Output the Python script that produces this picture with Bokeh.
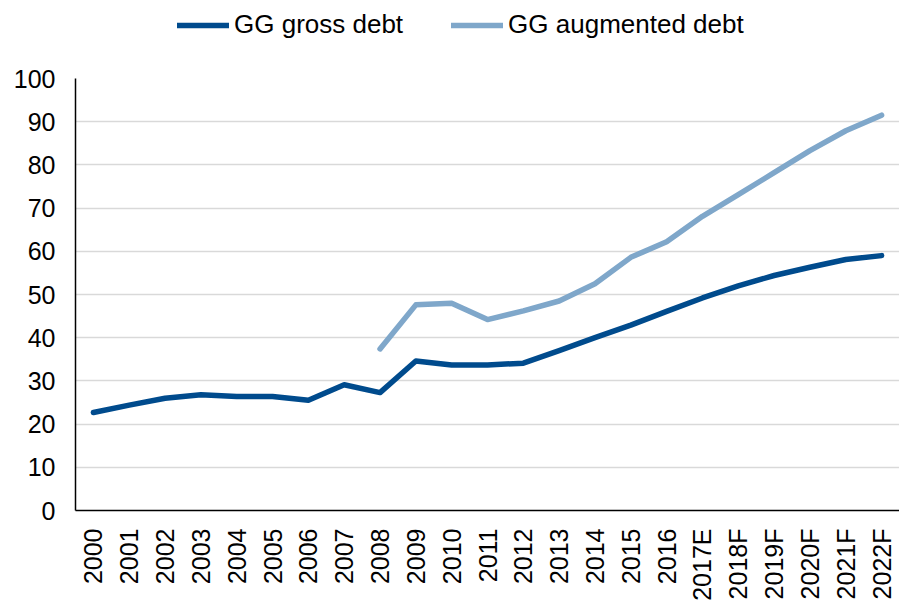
import math
from bokeh.plotting import figure
from bokeh.layouts import column
from bokeh.models import (ColumnDataSource, FactorRange, Range1d, Legend, LegendItem,
                          FixedTicker)
from bokeh.embed import file_html
from bokeh.resources import INLINE

years = ["2000", "2001", "2002", "2003", "2004", "2005", "2006", "2007", "2008",
         "2009", "2010", "2011", "2012", "2013", "2014", "2015", "2016", "2017E",
         "2018F", "2019F", "2020F", "2021F", "2022F"]
gross_debt = [22.7, 24.4, 26.0, 26.8, 26.4, 26.4, 25.5, 29.1, 27.3,
              34.6, 33.7, 33.7, 34.1, 37.0, 40.0, 42.9, 46.1, 49.2,
              52.0, 54.4, 56.3, 58.1, 59.0]
aug_years = ["2008", "2009", "2010", "2011", "2012", "2013", "2014", "2015", "2016",
             "2017E", "2018F", "2019F", "2020F", "2021F", "2022F"]
augmented_debt = [37.4, 47.6, 48.0, 44.2, 46.2, 48.5, 52.5, 58.6, 62.2,
                  68.1, 73.1, 78.2, 83.3, 87.9, 91.5]
y_ticks = [0, 10, 20, 30, 40, 50, 60, 70, 80, 90, 100]
series_names = ["GG gross debt", "GG augmented debt"]

DARK = "#004B8D"
LIGHT = "#7FA7CA"
FONT = "Liberation Sans"

# ---- main chart ----
p = figure(width=899, height=539, x_range=FactorRange(*years, range_padding=0),
           y_range=Range1d(0, 100), output_backend="svg", toolbar_location=None,
           min_border_left=75, min_border_right=0, min_border_top=14,
           min_border_bottom=90)
p.outline_line_color = None
p.background_fill_color = "white"
p.border_fill_color = "white"

src_g = ColumnDataSource(dict(x=years, y=gross_debt))
src_a = ColumnDataSource(dict(x=aug_years, y=augmented_debt))

p.line("x", "y", source=src_g, line_color=DARK, line_width=5.5, line_join="round",
       line_cap="round")
p.line("x", "y", source=src_a, line_color=LIGHT, line_width=5.5, line_join="round",
       line_cap="round")

p.yaxis.ticker = FixedTicker(ticks=y_ticks)
p.yaxis.minor_tick_line_color = None
p.yaxis.major_tick_out = 0
p.yaxis.major_tick_in = 0
p.yaxis.major_label_standoff = 20
p.yaxis.axis_line_color = "black"
p.yaxis.axis_line_width = 1.5
p.yaxis.major_label_text_font = FONT
p.yaxis.major_label_text_font_size = "25px"
p.yaxis.major_label_text_color = "black"

p.xaxis.major_tick_out = 0
p.xaxis.major_tick_in = 0
p.xaxis.minor_tick_line_color = None
p.xaxis.major_label_orientation = math.pi / 2
p.xaxis.major_label_standoff = 18
p.xaxis.axis_line_color = "black"
p.xaxis.axis_line_width = 1.5
p.xaxis.major_label_text_font = FONT
p.xaxis.major_label_text_font_size = "25px"
p.xaxis.major_label_text_color = "black"

p.xgrid.grid_line_color = None
p.ygrid.grid_line_color = "#D9D9D9"
p.ygrid.grid_line_width = 1.5

# ---- legend strip ----
lg = figure(width=899, height=64, x_range=Range1d(0, 1), y_range=Range1d(0, 1),
            output_backend="svg", toolbar_location=None,
            x_axis_location=None, y_axis_location=None,
            min_border=0, min_border_left=0, min_border_right=0,
            min_border_top=0, min_border_bottom=0)
lg.outline_line_color = None
lg.xgrid.grid_line_color = None
lg.ygrid.grid_line_color = None
nan = float("nan")
dummy = ColumnDataSource(dict(x=[nan], y=[nan]))
l1 = lg.line("x", "y", source=dummy, line_color=DARK, line_width=5.5, line_cap="round")
l2 = lg.line("x", "y", source=dummy, line_color=LIGHT, line_width=5.5, line_cap="round")

legend = Legend(items=[LegendItem(label=series_names[0], renderers=[l1]),
                       LegendItem(label=series_names[1], renderers=[l2])],
                orientation="horizontal", location=(102, 24),
                padding=0, margin=0, spacing=48, label_standoff=5,
                glyph_width=52, glyph_height=24, label_height=24,
                border_line_color=None, background_fill_alpha=0,
                label_text_font=FONT, label_text_font_size="26px",
                label_text_color="black")
lg.add_layout(legend, "center")

layout = column(lg, p, spacing=0)
open("out.html", "w").write(file_html(layout, INLINE))
